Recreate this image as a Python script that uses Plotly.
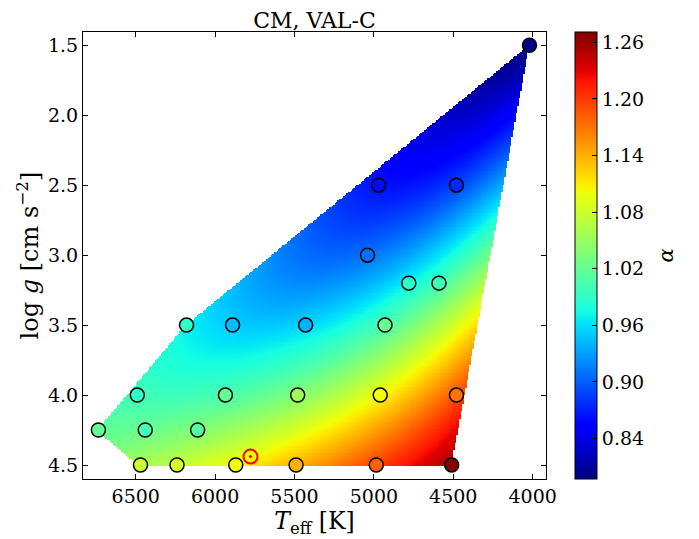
import numpy as np
import plotly.graph_objects as go

# ---- data ----
teff = [4020, 4970, 4480, 5040, 4780, 4590, 6180, 5890, 5430, 4930,
        6490, 5935, 5480, 4960, 4480, 6735, 6440, 6110,
        6470, 6240, 5870, 5490, 4985, 4510]
logg = [1.5, 2.5, 2.5, 3.0, 3.2, 3.2, 3.5, 3.5, 3.5, 3.5,
        4.0, 4.0, 4.0, 4.0, 4.0, 4.25, 4.25, 4.25,
        4.5, 4.5, 4.5, 4.5, 4.5, 4.5]
alpha = [0.800, 0.860, 0.875, 0.908, 0.990, 1.000, 0.990, 0.944, 0.939, 1.020,
         0.990, 1.020, 1.055, 1.100, 1.170, 1.020, 1.000, 1.010,
         1.080, 1.085, 1.100, 1.140, 1.180, 1.270]
sun_teff = [5777]
sun_logg = [4.44]

xticks = [6500, 6000, 5500, 5000, 4500, 4000]
yticks = [1.5, 2.0, 2.5, 3.0, 3.5, 4.0, 4.5]
cticks = [0.84, 0.90, 0.96, 1.02, 1.08, 1.14, 1.20, 1.26]
cmin, cmax = 0.797, 1.271
title = "CM, VAL-C"

# ---- matplotlib 'jet' colour scale ----
red = [(0, 0), (0.35, 0), (0.66, 1), (0.89, 1), (1, 0.5)]
green = [(0, 0), (0.125, 0), (0.375, 1), (0.64, 1), (0.91, 0), (1, 0)]
blue = [(0, 0.5), (0.11, 1), (0.34, 1), (0.65, 0), (1, 0)]
stops = sorted(set([p for p, _ in red + green + blue]))
def ch(seg, f):
    return np.interp(f, [p for p, _ in seg], [v for _, v in seg])
jet = [[f, "rgb(%d,%d,%d)" % (round(255 * ch(red, f)), round(255 * ch(green, f)), round(255 * ch(blue, f)))]
       for f in stops]

# ---- smooth background field: cubic polynomial fit to the points ----
T = np.array(teff, float); G = np.array(logg, float); A = np.array(alpha, float)
def feats(t, g):
    u = (t - 5500.0) / 1000.0
    v = g - 3.5
    return np.stack([np.ones_like(u), u, v, u * u, u * v, v * v,
                     u ** 3, u * u * v, u * v * v, v ** 3], axis=-1)
coef, *_ = np.linalg.lstsq(feats(T, G), A, rcond=None)

gx = np.linspace(3916, 6832, 320)
gy = np.linspace(1.40, 4.60, 320)
XX, YY = np.meshgrid(gx, gy)
Z = feats(XX, YY) @ coef

# convex hull of the points (monotone chain) and mask
pts = sorted(set(zip(teff, logg)))
def cross(o, a, b):
    return (a[0] - o[0]) * (b[1] - o[1]) - (a[1] - o[1]) * (b[0] - o[0])
lower, upper = [], []
for p in pts:
    while len(lower) >= 2 and cross(lower[-2], lower[-1], p) <= 0:
        lower.pop()
    lower.append(p)
for p in reversed(pts):
    while len(upper) >= 2 and cross(upper[-2], upper[-1], p) <= 0:
        upper.pop()
    upper.append(p)
hull = lower[:-1] + upper[:-1]
sx, sy = 1000.0, 1.0
inside = np.ones_like(XX, bool)
for i in range(len(hull)):
    (x0, y0), (x1, y1) = hull[i], hull[(i + 1) % len(hull)]
    c = ((x1 - x0) / sx) * ((YY - y0) / sy) - ((y1 - y0) / sy) * ((XX - x0) / sx)
    inside &= c >= -0.004
Z = np.where(inside, Z, np.nan)

fig = go.Figure()
fig.add_trace(go.Heatmap(x=gx, y=gy, z=Z, coloraxis="coloraxis", zsmooth=False,
                         hoverinfo="skip", showscale=False))
fig.add_trace(go.Scatter(x=teff, y=logg, mode="markers",
                         marker=dict(size=14, color=alpha, coloraxis="coloraxis",
                                     line=dict(color="black", width=1.5)),
                         showlegend=False))
fig.add_trace(go.Scatter(x=sun_teff, y=sun_logg, mode="markers",
                         marker=dict(size=14, symbol="circle-open-dot", color="red",
                                     line=dict(color="red", width=2)),
                         showlegend=False))

font = "DejaVu Serif"
fig.update_layout(
    width=699, height=539,
    margin=dict(l=83, r=153, t=32, b=60),
    paper_bgcolor="white", plot_bgcolor="white",
    font=dict(family=font, size=19, color="black"),
    title=dict(text=title, x=0.5, xref="paper", xanchor="center",
               y=1, yref="paper", yanchor="bottom", pad=dict(b=4),
               font=dict(family=font, size=22, color="black")),
    coloraxis=dict(
        colorscale=jet, cmin=cmin, cmax=cmax,
        colorbar=dict(x=1.062, xanchor="left", xpad=0, y=0.5, yanchor="middle",
                      len=1.0, lenmode="fraction", thickness=22, ypad=0,
                      outlinewidth=1, outlinecolor="black",
                      ticks="inside", ticklen=5, tickcolor="black",
                      tickvals=cticks, ticktext=["%.2f" % v for v in cticks],
                      tickfont=dict(family=font, size=19))),
    annotations=[dict(text="<i>α</i>", x=1.259, y=0.5, xref="paper", yref="paper",
                      xanchor="center", yanchor="middle", showarrow=False, textangle=-90,
                      font=dict(family=font, size=21, color="black"))],
    xaxis=dict(range=[6832, 3916], tickvals=xticks, ticktext=[str(v) for v in xticks],
               ticks="inside", ticklen=5, tickcolor="black", showline=True,
               linecolor="black", linewidth=1, mirror="ticks", showgrid=False,
               zeroline=False, title=dict(text="<i>T</i><sub>eff</sub> [K]", standoff=3,
                                          font=dict(family=font, size=23.5))),
    yaxis=dict(range=[4.6, 1.405], tickvals=yticks, ticktext=["%.1f" % v for v in yticks],
               ticks="inside", ticklen=5, tickcolor="black", showline=True,
               linecolor="black", linewidth=1, mirror="ticks", showgrid=False,
               zeroline=False, title=dict(text="log <i>g</i> [cm s<sup>−2</sup>]", standoff=2,
                                          font=dict(family=font, size=24))),
)
fig.write_html("out.html", config={"displayModeBar": False},
               post_script="document.body.style.margin='0px';")
